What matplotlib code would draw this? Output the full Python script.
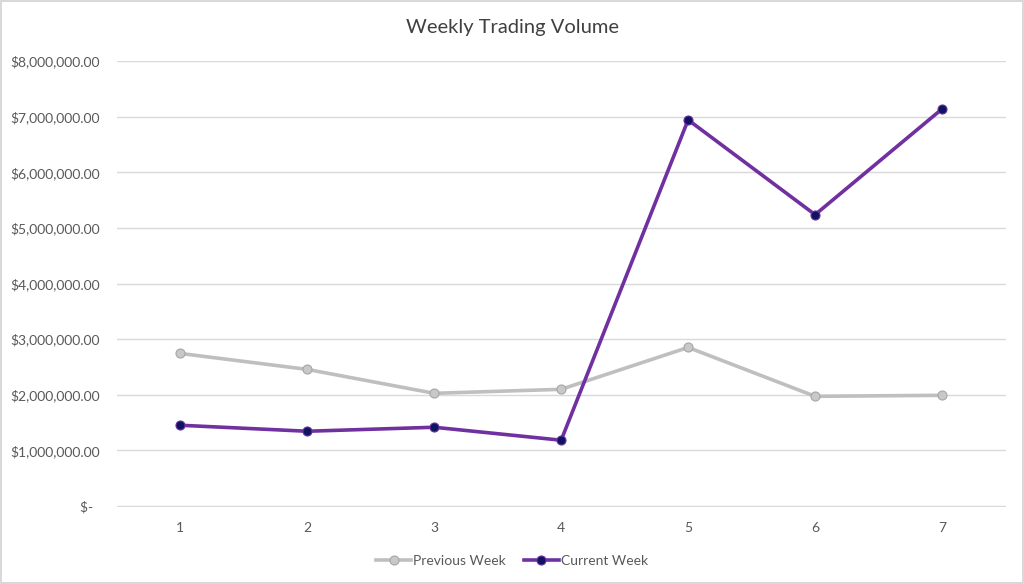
import matplotlib
matplotlib.use("Agg")
import matplotlib.pyplot as plt
from matplotlib.ticker import FuncFormatter

days = [1, 2, 3, 4, 5, 6, 7]
previous_week = [2744000, 2457000, 2027000, 2099000, 2852000, 1973000, 1991000]
current_week = [1453000, 1345000, 1417000, 1184000, 6942000, 5238000, 7139000]
y_ticks = [0, 1e6, 2e6, 3e6, 4e6, 5e6, 6e6, 7e6, 8e6]

plt.rcParams['font.family'] = ['Lato', 'DejaVu Sans']

fig = plt.figure(figsize=(10.24, 5.84), dpi=100)
fig.patch.set_facecolor('white')
fig.patch.set_edgecolor('#d9d9d9')
fig.patch.set_linewidth(1.5)
ax = fig.add_axes([0.114, 0.132, 0.868, 0.7635])

ax.plot(days, previous_week, color='#bfbfbf', linewidth=2.6, marker='o', markersize=6.5,
        markerfacecolor='#c8c8c8', markeredgecolor='#a6a6a6', markeredgewidth=0.8,
        label='Previous Week', zorder=3)
ax.plot(days, current_week, color='#7030a0', linewidth=2.6, marker='o', markersize=6.5,
        markerfacecolor='#0e1560', markeredgecolor='#7030a0', markeredgewidth=0.8,
        label='Current Week', zorder=4)

ax.set_xlim(0.5, 7.5)
ax.set_ylim(-15000, 8e6)
ax.set_xticks(days)
ax.set_yticks(y_ticks)

def fmt(v, pos):
    if v == 0:
        return '$-  '
    return '${:,.2f}'.format(v)

ax.yaxis.set_major_formatter(FuncFormatter(fmt))
ax.grid(axis='y', color='#d9d9d9', linewidth=1)
ax.set_axisbelow(True)
for s in ax.spines.values():
    s.set_visible(False)
ax.tick_params(axis='both', length=0, colors='#595959', labelsize=10)
ax.tick_params(axis='y', pad=12)
ax.tick_params(axis='x', pad=11)

fig.text(0.5, 0.953, 'Weekly Trading Volume', ha='center', va='center',
         fontsize=14.5, color='#404040')

leg = fig.legend(loc='center', bbox_to_anchor=(0.5, 0.040), ncol=2, frameon=False,
                 fontsize=10, handlelength=2.5, columnspacing=1.3, handletextpad=0.15)
for t in leg.get_texts():
    t.set_color('#595959')

fig.savefig('out.png', dpi=100, facecolor=fig.get_facecolor(), edgecolor=fig.get_edgecolor())
